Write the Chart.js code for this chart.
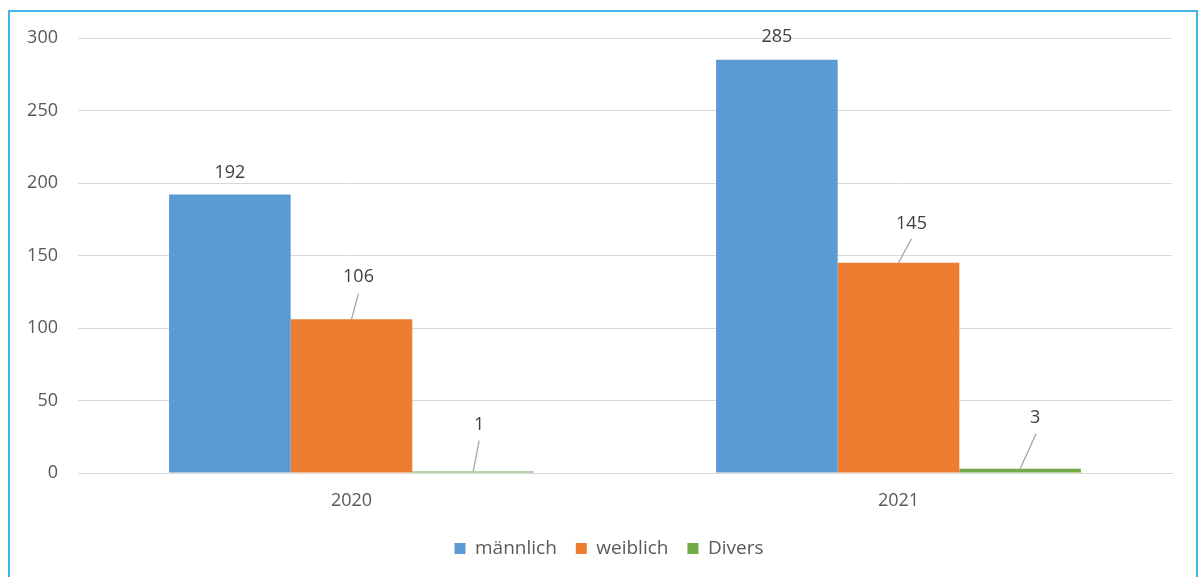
<!DOCTYPE html>
<html>
<head>
<meta charset="utf-8">
<script src="https://cdn.jsdelivr.net/npm/chart.js@4/dist/chart.umd.min.js"></script>
<style>
  html, body { margin: 0; padding: 0; background: #fff; overflow: hidden; }
  #wrap { position: relative; width: 1203px; height: 577px; }
  #frame {
    position: absolute; left: 8px; top: 10px; width: 1190px; height: 600px;
    border: 2px solid #3fb3e6; box-sizing: border-box; pointer-events: none;
  }
  canvas { position: absolute; left: 0; top: 0; }
</style>
</head>
<body>
<div id="wrap">
  <canvas id="chart" width="1203" height="577"></canvas>
  <div id="frame"></div>
</div>
<script>
const years = ['2020', '2021'];
const maennlich = [192, 285];
const weiblich = [106, 145];
const divers = [1, 3];

const FONT = "'Open Sans', 'Noto Sans', sans-serif";

// label placement per dataset / bar: [lineDx, lineDy, labelDx, labelDy]; null line = plain label
const callouts = [
  [[null, null, 0, -22], [null, null, 0, -23]],
  [[7, -26, 7, -42], [13, -24, 13, -39]],
  [[6, -31, 6, -47], [16, -35, 15, -51]],
];

const valueLabels = {
  id: 'valueLabels',
  afterDatasetsDraw(chart) {
    const ctx = chart.ctx;
    ctx.save();
    ctx.font = '18px ' + FONT;
    ctx.textAlign = 'center';
    ctx.textBaseline = 'middle';
    chart.data.datasets.forEach((ds, di) => {
      chart.getDatasetMeta(di).data.forEach((bar, i) => {
        const [lx, ly, tx, ty] = callouts[di][i];
        if (lx !== null) {
          ctx.strokeStyle = '#a6a6a6';
          ctx.lineWidth = 1.3;
          ctx.beginPath();
          ctx.moveTo(bar.x, bar.y);
          ctx.lineTo(bar.x + lx, bar.y + ly);
          ctx.stroke();
        }
        ctx.fillStyle = '#404040';
        ctx.fillText(String(ds.data[i]), bar.x + tx, bar.y + ty);
      });
    });
    ctx.restore();
  },
};

// center the legend under the plot area instead of the whole canvas
const legendShift = {
  id: 'legendShift',
  afterLayout(chart) {
    const lg = chart.legend;
    const dx = (chart.chartArea.left + chart.chartArea.right - lg.left - lg.right) / 2 - 16;
    lg.left += dx;
    lg.right += dx;
  },
};

new Chart(document.getElementById('chart').getContext('2d'), {
  type: 'bar',
  data: {
    labels: years,
    datasets: [
      { label: 'männlich', data: maennlich, backgroundColor: '#5b9bd5' },
      { label: 'weiblich', data: weiblich, backgroundColor: '#ed7d31' },
      { label: 'Divers', data: divers, backgroundColor: '#70ad47' },
    ],
  },
  options: {
    responsive: false,
    animation: false,
    events: [],
    datasets: {
      bar: { barPercentage: 1, categoryPercentage: 0.667, minBarLength: 1 },
    },
    layout: { padding: { top: 38, right: 31, left: 0, bottom: 9 } },
    scales: {
      x: {
        grid: { display: false, drawTicks: false },
        border: { color: '#d9d9d9', width: 1 },
        ticks: { color: '#595959', font: { family: FONT, size: 18 }, padding: 17 },
        afterFit(scale) { scale.height = 47; },
      },
      y: {
        min: 0,
        max: 300,
        ticks: {
          stepSize: 50,
          color: '#595959',
          font: { family: FONT, size: 18 },
          padding: 20,
        },
        grid: { color: '#d9d9d9', lineWidth: 1, drawTicks: false },
        border: { display: false },
        afterFit(scale) { scale.width = 78; },
      },
    },
    plugins: {
      legend: {
        position: 'bottom',
        labels: {
          color: '#595959',
          font: { family: FONT, size: 19 },
          boxWidth: 11,
          boxHeight: 11,
          padding: 19,
        },
      },
      tooltip: { enabled: false },
    },
  },
  plugins: [valueLabels, legendShift],
});
</script>
</body>
</html>
